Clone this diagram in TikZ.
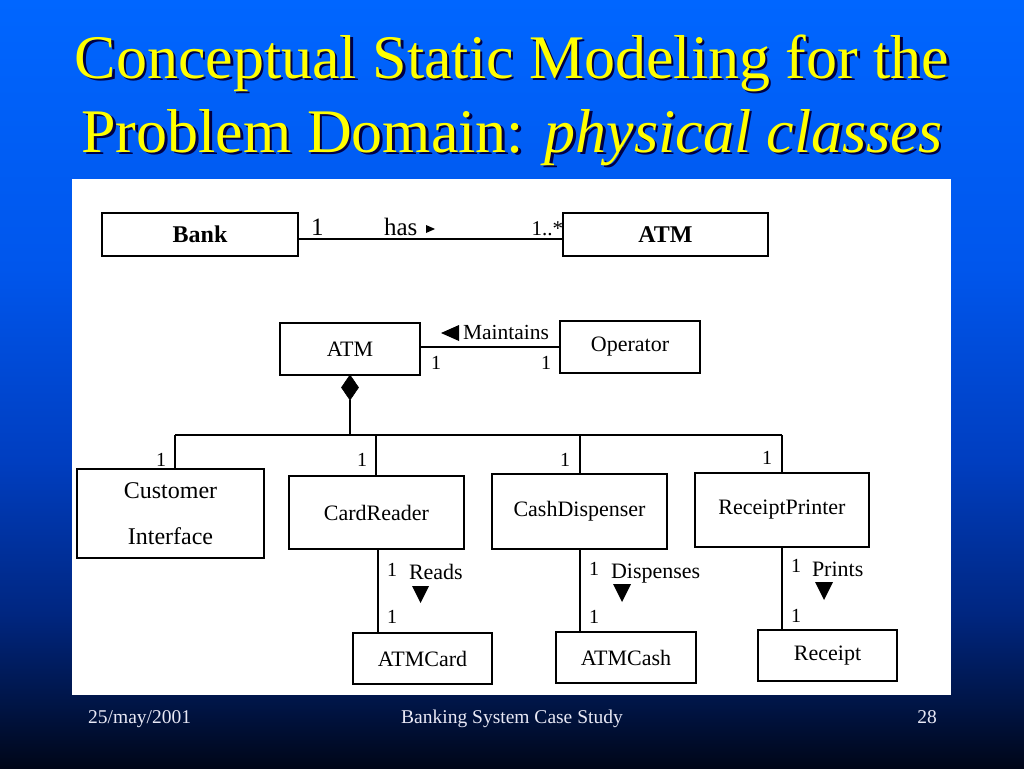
\documentclass[tikz,border=0pt]{standalone}
\usepackage{fontspec}
\setmainfont{Liberation Serif}
\usetikzlibrary{shapes.geometric}
\definecolor{bgA}{RGB}{0,102,255}
\definecolor{bgB}{RGB}{0,86,236}
\definecolor{bgC}{RGB}{0,62,192}
\definecolor{bgD}{RGB}{0,38,128}
\definecolor{bgE}{RGB}{0,20,68}
\definecolor{bgF}{RGB}{0,6,24}
\definecolor{titleyellow}{RGB}{255,255,0}
\definecolor{titleshadow}{RGB}{0,0,70}
\definecolor{footgrey}{RGB}{232,232,245}
\pgfdeclareverticalshading{bgshade}{100bp}{color(0bp)=(bgF); color(25bp)=(bgF); color(29bp)=(bgE); color(35bp)=(bgD); color(45bp)=(bgC); color(57.5bp)=(bgB); color(75bp)=(bgA); color(100bp)=(bgA)}
\begin{document}
\begin{tikzpicture}[x=1pt,y=-1pt,
  cls/.style={draw=black, line width=1.6pt, fill=white, inner sep=0pt, outer sep=0pt, font=\fontsize{22}{26}\selectfont},
  clsb/.style={cls, line width=1.4pt, font=\fontsize{24}{28}\selectfont\bfseries},
  link/.style={draw=black, line width=1.8pt},
  lbl/.style={inner sep=0pt, outer sep=0pt, anchor=base west, font=\fontsize{22}{26}\selectfont},
  mult/.style={lbl, font=\fontsize{20}{24}\selectfont},
  ttl/.style={inner sep=0pt, anchor=base, font=\fontsize{62}{74}\selectfont},
  foot/.style={inner sep=0pt, text=footgrey, font=\fontsize{19.5}{23}\selectfont}
]
\path[use as bounding box] (0,0) rectangle (1024,768);
\shade[shading=bgshade] (0,0) rectangle (1024,768);

% title
\node[ttl, text=titleshadow] (t1s) at (514.5,80.5) {Conceptual Static Modeling for the};
\node[ttl, text=titleshadow] (t2s) at (514.5,154.5) {Problem Domain: \textit{physical classes}};
\node[ttl, text=titleyellow] (t1) at (512,78) {Conceptual Static Modeling for the};
\node[ttl, text=titleyellow] (t2) at (512,152) {Problem Domain: \textit{physical classes}};

% white panel
\fill[white] (72,179) rectangle (951,695);

% upper diagram
\node[clsb, minimum width=196pt, minimum height=43pt] (bank) at (200,234.5) {Bank};
\node[clsb, minimum width=205pt, minimum height=43pt] (atmA) at (665.5,234.5) {ATM};
\draw[link, line width=1.4pt] ([yshift=-4.5pt]bank.east) -- ([yshift=-4.5pt]atmA.west);
\node[lbl, font=\fontsize{25}{28}\selectfont] (m1) at (311,235) {1};
\node[lbl, font=\fontsize{25}{28}\selectfont] (has) at (384,235) {has};
\fill[black] (426,225) -- (435,229) -- (426,233) -- cycle;
\node[lbl, anchor=base east, font=\fontsize{21}{24}\selectfont] (m2) at (563,235) {1..*};

% ATM - Operator
\node[cls, minimum width=140pt, minimum height=52pt] (atmB) at (350,349) {ATM};
\node[cls, minimum width=140pt, minimum height=52pt] (oper) at (630,347) {Operator};
\draw[link] (atmB.east |- oper.west) -- (oper.west);
\fill[black] (441,333) -- (459,325) -- (459,341) -- cycle;
\node[lbl, font=\fontsize{21.5}{26}\selectfont] (maint) at (463,339) {Maintains};
\node[mult] (m3) at (431,369) {1};
\node[mult] (m4) at (541,369) {1};

% composition
\node[diamond, fill=black, draw=black, line width=0.6pt, minimum width=17pt, minimum height=25pt, inner sep=0pt, outer sep=0pt, anchor=north] (dia) at (atmB.south) {};
\coordinate (busL) at (175,435);
\coordinate (busM) at (350,435);
\coordinate (busR) at (782,435);
\draw[link] (dia.south) -- (busM);
\draw[link] (busL) -- (busR);

% parts
\node[cls, minimum width=187pt, minimum height=89pt, align=center, font=\fontsize{24}{46}\selectfont] (ci) at (170.5,513.5) {Customer\\Interface};
\node[cls, minimum width=175pt, minimum height=73pt] (card) at (376.5,512.5) {CardReader};
\node[cls, minimum width=175pt, minimum height=75pt] (cash) at (579.5,511.5) {CashDispenser};
\node[cls, minimum width=174pt, minimum height=74pt] (rprt) at (782,510) {ReceiptPrinter};

\draw[link] (busL) -- (busL |- ci.north);
\draw[link] ([xshift=-0.5pt]card.north |- busL) -- ([xshift=-0.5pt]card.north);
\draw[link] ([xshift=0.5pt]cash.north |- busL) -- ([xshift=0.5pt]cash.north);
\draw[link] (busR) -- (rprt.north);

\node[mult, anchor=base east] (m5) at (166,466) {1};
\node[mult, anchor=base east] (m6) at (367,466) {1};
\node[mult, anchor=base east] (m7) at (570,466) {1};
\node[mult, anchor=base east] (m8) at (772,464) {1};

% bottom classes
\node[cls, minimum width=139pt, minimum height=51pt] (acard) at (422.5,658.5) {ATMCard};
\node[cls, minimum width=140pt, minimum height=51pt] (acash) at (626,657.5) {ATMCash};
\node[cls, minimum width=139pt, minimum height=51pt] (rcpt) at (827.5,655.5) {Receipt};

\draw[link] ([xshift=1.5pt]card.south) -- ([xshift=1.5pt]card.south |- acard.north);
\draw[link] ([xshift=0.5pt]cash.south) -- ([xshift=0.5pt]cash.south |- acash.north);
\draw[link] (rprt.south) -- (rprt.south |- rcpt.north);

% Reads
\node[mult] (m9) at (387,576) {1};
\node[lbl] (reads) at (409,579) {Reads};
\fill[black] (412,586) -- (429,586) -- (420.5,603) -- cycle;
\node[mult] (m10) at (387,623) {1};
% Dispenses
\node[mult] (m11) at (589,575) {1};
\node[lbl] (disp) at (611,578) {Dispenses};
\fill[black] (613,584) -- (631,584) -- (622,602) -- cycle;
\node[mult] (m12) at (589,623) {1};
% Prints
\node[mult] (m13) at (791,572) {1};
\node[lbl] (prints) at (812,576) {Prints};
\fill[black] (815,582) -- (833,582) -- (824,600) -- cycle;
\node[mult] (m14) at (791,622) {1};

% footer
\node[foot, anchor=base west] (f1) at (88,723) {25/may/2001};
\node[foot, anchor=base] (f2) at (512,723) {Banking System Case Study};
\node[foot, anchor=base east] (f3) at (937,723) {28};
\end{tikzpicture}
\end{document}
